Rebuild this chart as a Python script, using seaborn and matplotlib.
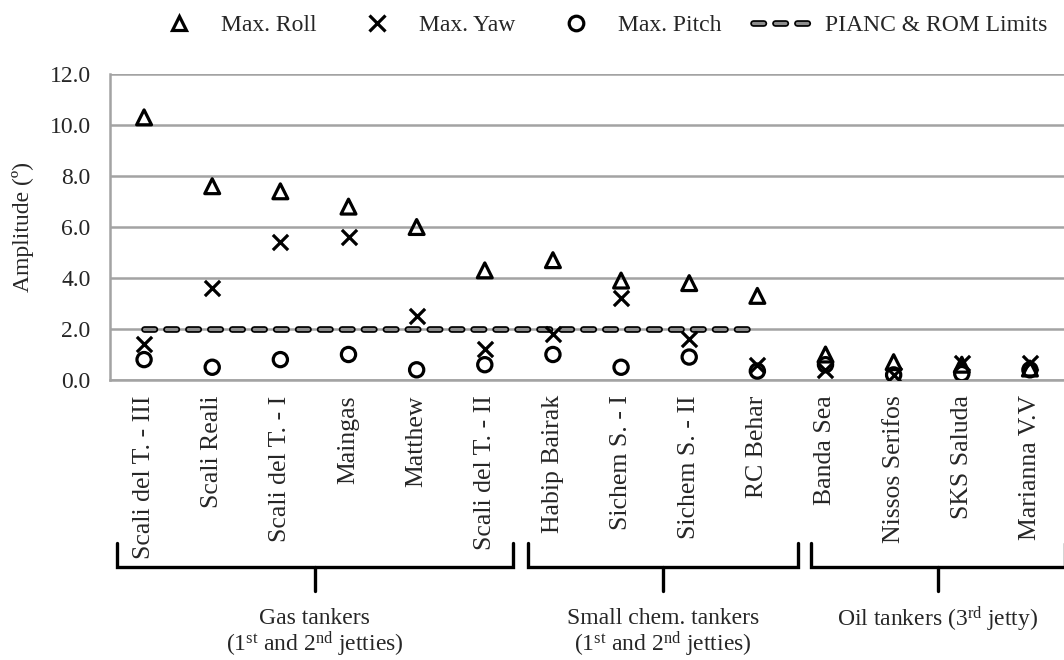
import numpy as np
import pandas as pd
import matplotlib
matplotlib.use("Agg")
import matplotlib.pyplot as plt
import matplotlib.patheffects as pe
import matplotlib.transforms as mtrans
from matplotlib.lines import Line2D
import seaborn as sns

# ---------------- data ----------------
ships = ["Scali del T. - III", "Scali Reali", "Scali del T. - I", "Maingas", "Matthew",
         "Scali del T. - II", "Habip Bairak", "Sichem S. - I", "Sichem S. - II", "RC Behar",
         "Banda Sea", "Nissos Serifos", "SKS Saluda", "Marianna V.V"]
max_roll = [10.3, 7.6, 7.4, 6.8, 6.0, 4.3, 4.7, 3.9, 3.8, 3.3, 1.0, 0.7, 0.6, 0.45]
max_yaw = [1.4, 3.6, 5.4, 5.6, 2.5, 1.2, 1.8, 3.2, 1.6, 0.6, 0.4, 0.2, 0.65, 0.65]
max_pitch = [0.8, 0.5, 0.8, 1.0, 0.4, 0.6, 1.0, 0.5, 0.9, 0.35, 0.6, 0.2, 0.25, 0.4]
limit = [2.0] * 10 + [np.nan] * 4
yticks = [0, 2, 4, 6, 8, 10, 12]

group_line1 = ["Gas tankers", "Small chem. tankers", "Oil tankers (3$^{\\mathrm{rd}}$ jetty)"]
group_line2 = ["(1$^{\\mathrm{st}}$ and 2$^{\\mathrm{nd}}$ jetties)",
               "(1$^{\\mathrm{st}}$ and 2$^{\\mathrm{nd}}$ jetties)", ""]
# bracket spans (layout, in category-axis units)
bracket_spans = [(-0.40, 5.41), (5.63, 9.60), (9.79, 13.51)]

# ---------------- style ----------------
sns.set_style("white")
plt.rcParams["font.family"] = ["Liberation Serif", "DejaVu Serif"]
plt.rcParams["mathtext.fontset"] = "custom"
plt.rcParams["mathtext.rm"] = "Liberation Serif"
plt.rcParams["mathtext.it"] = "Liberation Serif:italic"
plt.rcParams["mathtext.bf"] = "Liberation Serif:bold"
plt.rcParams["lines.scale_dashes"] = False

W, H = 1064, 660
fig = plt.figure(figsize=(W / 100, H / 100), dpi=100)
ax = fig.add_axes([110 / W, (H - 380) / H, (W - 110) / W, (380 - 74) / H])

pos = np.arange(len(ships))
df = pd.DataFrame({"pos": pos, "roll": max_roll, "yaw": max_yaw,
                   "pitch": max_pitch, "limit": limit})

# PIANC line
line_pe = [pe.Stroke(linewidth=4.8, foreground="black"), pe.Normal()]
(lim_line,) = ax.plot(df["pos"], df["limit"], color="#8c8c8c", lw=2.3,
                      linestyle=(0, (7.5, 8.3)), dash_capstyle="round",
                      path_effects=line_pe, zorder=3, label="PIANC & ROM Limits")

sns.scatterplot(data=df, x="pos", y="roll", marker="^", s=115, color="black",
                facecolor="none", edgecolor="black", linewidth=2.3, ax=ax, zorder=4,
                legend=False)
sns.scatterplot(data=df, x="pos", y="yaw", marker="x", s=120, color="black",
                linewidth=2.3, ax=ax, zorder=4, legend=False)
sns.scatterplot(data=df, x="pos", y="pitch", marker="o", s=105, color="black",
                facecolor="none", edgecolor="black", linewidth=2.3, ax=ax, zorder=4,
                legend=False)
if ax.get_legend() is not None:
    ax.get_legend().remove()

ax.set_xlim(-0.5, 13.5)
ax.set_ylim(0, 12)
ax.set_yticks(yticks)
ax.set_yticklabels([f"{v:.1f}" for v in yticks])
ax.set_xticks(pos)
ax.set_xticklabels(ships, rotation=90, va="top", ha="center")
ax.tick_params(axis="x", length=0, pad=11, labelsize=18.5)
ax.tick_params(axis="y", length=0, pad=14, labelsize=17)
ax.set_xlabel("")
ax.set_ylabel("Amplitude (º)", fontsize=17)
ax.yaxis.set_label_coords(-(110 - 34) / 954, 0.5)

ax.grid(axis="y", color="#a3a3a3", lw=1.8)
ax.grid(axis="x", visible=False)
for s in ["top", "right"]:
    ax.spines[s].set_visible(False)
for s in ["left", "bottom"]:
    ax.spines[s].set_color("#a3a3a3")
    ax.spines[s].set_linewidth(1.8)

# brackets for groups
trans = mtrans.blended_transform_factory(ax.transData, fig.transFigure)
def fy(py):
    return 1 - py / H
for (x0, x1), t1, t2 in zip(bracket_spans, group_line1, group_line2):
    xc = (x0 + x1) / 2
    ax.plot([x0, x0, x1, x1], [fy(543), fy(567), fy(567), fy(543)], color="black",
            lw=2.4, transform=trans, clip_on=False, solid_joinstyle="miter")
    ax.plot([xc, xc], [fy(567), fy(591)], color="black", lw=2.4,
            transform=trans, clip_on=False)
    ax.text(xc, fy(619), t1, transform=trans, ha="center", va="center", fontsize=17)
    if t2:
        ax.text(xc, fy(644), t2, transform=trans, ha="center", va="center", fontsize=17)

# legend
handles = [
    Line2D([], [], marker="^", ls="none", mfc="none", mec="black", mew=2.3, ms=10.5),
    Line2D([], [], marker="x", ls="none", color="black", mew=2.3, ms=11),
    Line2D([], [], marker="o", ls="none", mfc="none", mec="black", mew=2.3, ms=10.5),
    lim_line,
]
labels = ["Max. Roll", "Max. Yaw", "Max. Pitch", "PIANC & ROM Limits"]
fig.legend(handles, labels, loc="center", bbox_to_anchor=(598 / W, fy(25)), ncol=4,
           frameon=False, fontsize=17, handlelength=2.5, handletextpad=0.55,
           columnspacing=1.3, borderaxespad=0)

fig.savefig("out.png", dpi=100)
